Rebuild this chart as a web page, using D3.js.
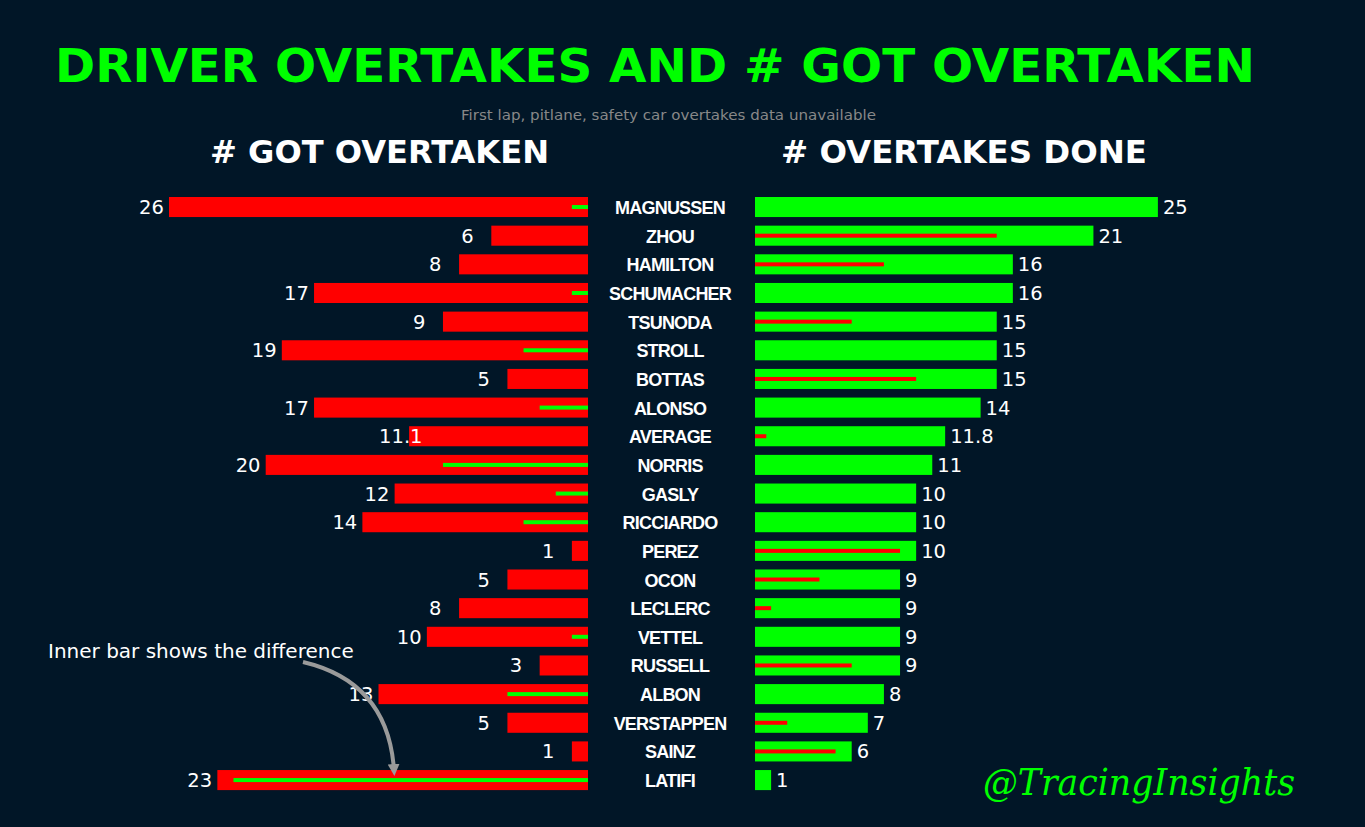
<!DOCTYPE html>
<html><head><meta charset="utf-8">
<script src="https://cdn.jsdelivr.net/npm/d3@7"></script>
<style>html,body{margin:0;padding:0;background:#011627;}svg{display:block;}</style>
</head><body>
<svg id="chart" width="1365" height="827"></svg>
<script>
const drivers = ["MAGNUSSEN","ZHOU","HAMILTON","SCHUMACHER","TSUNODA","STROLL","BOTTAS","ALONSO","AVERAGE","NORRIS","GASLY","RICCIARDO","PEREZ","OCON","LECLERC","VETTEL","RUSSELL","ALBON","VERSTAPPEN","SAINZ","LATIFI"];
const overtakes = [25,21,16,16,15,15,15,14,11.8,11,10,10,10,9,9,9,9,8,7,6,1];
const gotOvertaken = [26,6,8,17,9,19,5,17,11.1,20,12,14,1,5,8,10,3,13,5,1,23];

const title = "DRIVER OVERTAKES AND # GOT OVERTAKEN";
const subtitle = "First lap, pitlane, safety car overtakes data unavailable";
const leftHeader = "# GOT OVERTAKEN";
const rightHeader = "# OVERTAKES DONE";
const note = "Inner bar shows the difference";
const watermark = "@TracingInsights";

const BG = "#011627", GREEN = "#00ff00", RED = "#ff0000";
const svg = d3.select("#chart");
svg.append("rect").attr("width",1365).attr("height",827).attr("fill",BG);

const rows = drivers.map((d,i)=>({name:d, over:overtakes[i], got:gotOvertaken[i], diff:overtakes[i]-gotOvertaken[i]}));

const len = d3.scaleLinear().domain([0,26]).range([0,419]);
const leftX0 = 588, rightX0 = 755;
const y = d3.scaleBand().domain(drivers).range([192.7,794.4]).paddingInner(0.3).paddingOuter(0.15);
const bw = y.bandwidth();
const innerH = 4;

// Title
svg.append("text").attr("x",55).attr("y",82).text(title)
  .attr("font-family","DejaVu Sans").attr("font-weight","bold").attr("font-size",47)
  .attr("fill",GREEN).attr("textLength",1200).attr("lengthAdjust","spacingAndGlyphs");
svg.append("text").attr("x",461).attr("y",120).text(subtitle)
  .attr("font-family","DejaVu Sans").attr("font-size",14).attr("fill","#888888")
  .attr("textLength",415).attr("lengthAdjust","spacingAndGlyphs");
svg.append("text").attr("x",210).attr("y",163).text(leftHeader)
  .attr("font-family","DejaVu Sans").attr("font-weight","bold").attr("font-size",32)
  .attr("fill","#ffffff").attr("textLength",339).attr("lengthAdjust","spacingAndGlyphs");
svg.append("text").attr("x",781).attr("y",163).text(rightHeader)
  .attr("font-family","DejaVu Sans").attr("font-weight","bold").attr("font-size",32)
  .attr("fill","#ffffff").attr("textLength",366).attr("lengthAdjust","spacingAndGlyphs");

// Left bars
svg.append("g").selectAll("rect").data(rows).join("rect")
  .attr("x",d=>leftX0-len(d.got)).attr("y",d=>y(d.name))
  .attr("width",d=>len(d.got)).attr("height",bw).attr("fill",RED);
// Left inner (green) when got > over
svg.append("g").selectAll("rect").data(rows.filter(d=>d.diff<0)).join("rect")
  .attr("x",d=>leftX0-len(-d.diff)).attr("y",d=>y(d.name)+bw/2-innerH/2)
  .attr("width",d=>len(-d.diff)).attr("height",innerH).attr("fill",GREEN);
// Left labels
svg.append("g").selectAll("text").data(rows).join("text")
  .attr("x",d=>leftX0-len(d.got)-30)
  .attr("y",d=>y(d.name)+bw/2+7)
  .text(d=>d.got)
  .attr("font-family","DejaVu Sans").attr("font-size",19.5).attr("fill","#ffffff");

// Right bars
svg.append("g").selectAll("rect").data(rows).join("rect")
  .attr("x",rightX0).attr("y",d=>y(d.name))
  .attr("width",d=>len(d.over)).attr("height",bw).attr("fill",GREEN);
svg.append("g").selectAll("rect").data(rows.filter(d=>d.diff>0)).join("rect")
  .attr("x",rightX0).attr("y",d=>y(d.name)+bw/2-innerH/2)
  .attr("width",d=>len(d.diff)).attr("height",innerH).attr("fill",RED);
svg.append("g").selectAll("text").data(rows).join("text")
  .attr("x",d=>rightX0+len(d.over)+5)
  .attr("y",d=>y(d.name)+bw/2+7)
  .text(d=>d.over)
  .attr("font-family","DejaVu Sans").attr("font-size",19.5).attr("fill","#ffffff");

// Driver names
svg.append("g").selectAll("text").data(rows).join("text")
  .attr("x",670).attr("y",d=>y(d.name)+bw/2+7).attr("text-anchor","middle")
  .text(d=>d.name)
  .attr("font-family","Liberation Sans, Arial").attr("font-weight","bold").attr("font-size",18)
  .attr("letter-spacing","-0.8px").attr("fill","#ffffff");

// Annotation
svg.append("text").attr("x",48).attr("y",658).text(note)
  .attr("font-family","DejaVu Sans").attr("font-size",20).attr("fill","#ffffff");
const defs = svg.append("defs");
defs.append("marker").attr("id","ah").attr("viewBox","0 0 10 10").attr("refX",5).attr("refY",5)
  .attr("markerWidth",3).attr("markerHeight",3).attr("orient","auto")
  .append("path").attr("d","M0,0 L10,5 L0,10 z").attr("fill","#9a9a9a");
svg.append("path").attr("d","M303,662 Q388,682 394,770")
  .attr("fill","none").attr("stroke","#9a9a9a").attr("stroke-width",4)
  .attr("marker-end","url(#ah)");

// Watermark
svg.append("text").attr("x",983).attr("y",795).text(watermark)
  .attr("font-family","DejaVu Serif").attr("font-style","italic").attr("font-size",38)
  .attr("fill",GREEN).attr("textLength",312).attr("lengthAdjust","spacingAndGlyphs");
</script>
</body></html>
